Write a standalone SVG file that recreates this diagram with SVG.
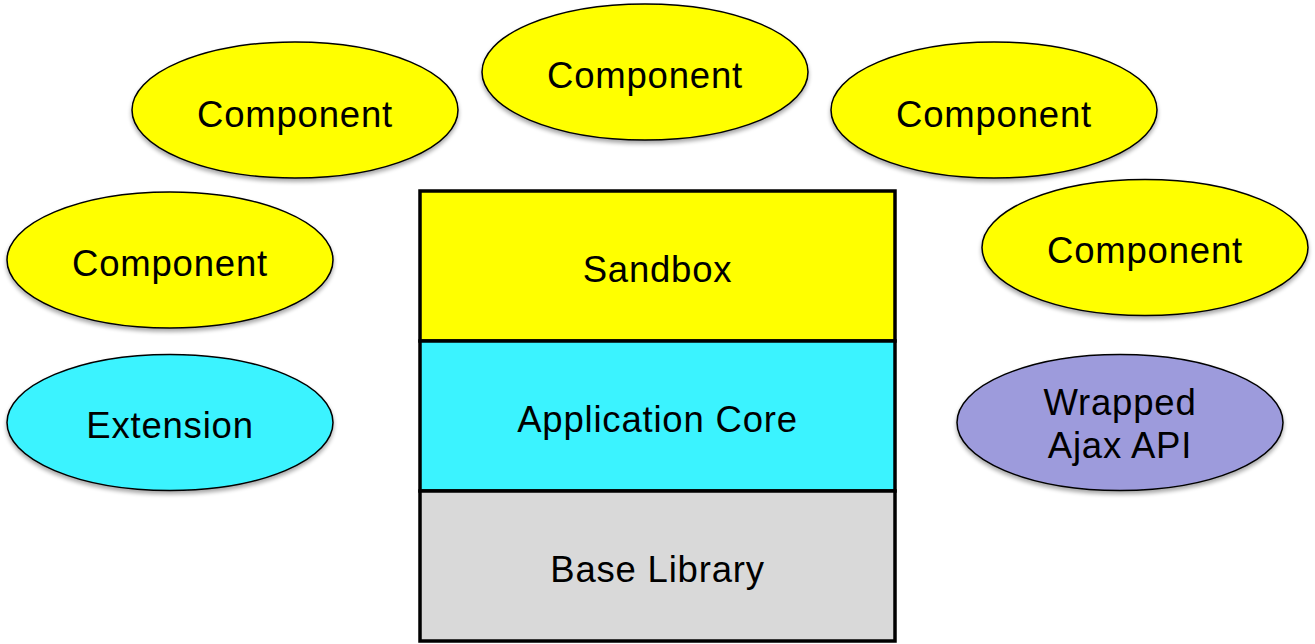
<svg xmlns="http://www.w3.org/2000/svg" width="1315" height="644" viewBox="0 0 1315 644">
<defs>
<filter id="sh" x="-10%" y="-10%" width="120%" height="130%">
<feGaussianBlur in="SourceAlpha" stdDeviation="2"/>
<feOffset dx="0" dy="3" result="b"/>
<feComponentTransfer><feFuncA type="linear" slope="0.35"/></feComponentTransfer>
<feMerge><feMergeNode/><feMergeNode in="SourceGraphic"/></feMerge>
</filter>
</defs>
<style>
.el{stroke:#000;stroke-width:1.5;filter:url(#sh)}
.y{fill:#FFFF00}
.c{fill:#3BF3FF}
.p{fill:#9D9BDC}
.g{fill:#D9D9D9}
.box{stroke:#000;stroke-width:3.5}
text{font-family:"Liberation Sans",Arial,sans-serif;font-size:36.5px;letter-spacing:0.8px;fill:#000;text-anchor:middle}
</style>
<rect width="1315" height="644" fill="#fff"/>
<g id="connectors"></g>
<g id="comp-top"><ellipse class="el y" cx="645" cy="72" rx="163" ry="68"/><text x="645" y="88">Component</text></g>
<g id="comp-topleft"><ellipse class="el y" cx="295" cy="110" rx="163" ry="68"/><text x="295" y="127">Component</text></g>
<g id="comp-topright"><ellipse class="el y" cx="994" cy="110" rx="163" ry="68"/><text x="994" y="127">Component</text></g>
<g id="comp-left"><ellipse class="el y" cx="170" cy="260" rx="163" ry="68"/><text x="170" y="276">Component</text></g>
<g id="comp-right"><ellipse class="el y" cx="1145" cy="247.5" rx="163" ry="68"/><text x="1145" y="263">Component</text></g>
<g id="extension"><ellipse class="el c" cx="170" cy="422.5" rx="163" ry="68"/><text x="170" y="438">Extension</text></g>
<g id="ajax"><ellipse class="el p" cx="1120" cy="422.5" rx="163" ry="68"/><text x="1120" y="415">Wrapped</text><text x="1120" y="458">Ajax API</text></g>
<g id="sandbox"><rect class="box y" x="420" y="191" width="475" height="150"/><text x="657.5" y="282">Sandbox</text></g>
<g id="core"><rect class="box c" x="420" y="341" width="475" height="150"/><text x="657.5" y="432">Application Core</text></g>
<g id="base"><rect class="box g" x="420" y="491" width="475" height="150"/><text x="657.5" y="582">Base Library</text></g>
</svg>
